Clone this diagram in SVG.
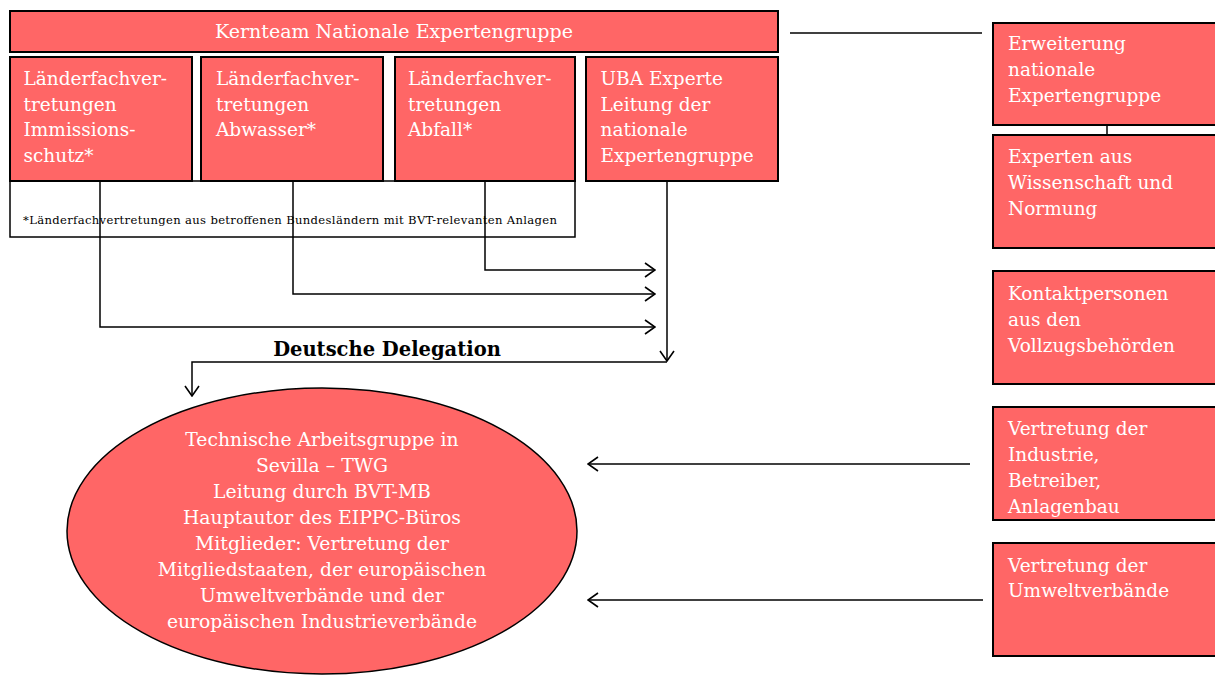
<svg xmlns="http://www.w3.org/2000/svg" width="1215" height="675" viewBox="0 0 1215 675">
  <style>
    .box { fill: #ff6666; stroke: #000; stroke-width: 2; }
    .note { fill: #fff; stroke: #000; stroke-width: 1.5; }
    .lbl { font-family: "DejaVu Serif", "Liberation Serif", serif; font-size: 18.5px; fill: #fff; }
    .ctr { text-anchor: middle; }
    .foot { font-family: "DejaVu Serif", "Liberation Serif", serif; font-size: 11.6px; fill: #000; }
    .title { font-family: "DejaVu Serif", "Liberation Serif", serif; font-size: 19.5px; font-weight: bold; fill: #000; text-anchor: middle; }
    .wire { fill: none; stroke: #000; stroke-width: 1.5; }
  </style>
  <defs>
    <marker id="open" viewBox="0 0 12 16" refX="11" refY="8" markerWidth="12" markerHeight="16" markerUnits="userSpaceOnUse" orient="auto">
      <path d="M1,1 L11,8 L1,15" fill="none" stroke="#000" stroke-width="1.6"/>
    </marker>
  </defs>
  <rect width="1215" height="675" fill="#fff"/>

  <!-- footnote panel under the Länder boxes -->
  <g id="footnote">
    <rect class="note" x="10" y="181" width="565" height="56"/>
    <text class="foot" x="23" y="224" textLength="534" lengthAdjust="spacing">*Länderfachvertretungen  aus betroffenen Bundesländern mit BVT-relevanten Anlagen</text>
  </g>

  <g id="kernteam">
    <rect class="box" x="10" y="11" width="768" height="41"/>
    <text class="lbl ctr" x="394" y="38" style="font-size:19px">Kernteam Nationale Expertengruppe</text>
  </g>

  <g id="laender-immission">
    <rect class="box" x="10" y="57" width="182" height="124"/>
    <text class="lbl" x="23.5" y="85">Länderfachver-<tspan x="23.5" y="110.5">tretungen</tspan><tspan x="23.5" y="136">Immissions-</tspan><tspan x="23.5" y="162">schutz*</tspan></text>
  </g>

  <g id="laender-abwasser">
    <rect class="box" x="201" y="57" width="182" height="124"/>
    <text class="lbl" x="216" y="85">Länderfachver-<tspan x="216" y="110.5">tretungen</tspan><tspan x="216" y="136">Abwasser*</tspan></text>
  </g>

  <g id="laender-abfall">
    <rect class="box" x="395" y="57" width="180" height="124"/>
    <text class="lbl" x="408" y="85">Länderfachver-<tspan x="408" y="110.5">tretungen</tspan><tspan x="408" y="136">Abfall*</tspan></text>
  </g>

  <g id="uba-experte">
    <rect class="box" x="586" y="57" width="192" height="124"/>
    <text class="lbl" x="600.5" y="85">UBA Experte<tspan x="600.5" y="110.5">Leitung der</tspan><tspan x="600.5" y="136">nationale</tspan><tspan x="600.5" y="162">Expertengruppe</tspan></text>
  </g>

  <g id="erweiterung">
    <rect class="box" x="993" y="23" width="240" height="102"/>
    <text class="lbl" x="1008" y="50">Erweiterung<tspan x="1008" y="76">nationale</tspan><tspan x="1008" y="102">Expertengruppe</tspan></text>
  </g>

  <g id="wissenschaft">
    <rect class="box" x="993" y="135" width="240" height="113"/>
    <text class="lbl" x="1008" y="163">Experten aus<tspan x="1008" y="189">Wissenschaft und</tspan><tspan x="1008" y="215">Normung</tspan></text>
  </g>

  <g id="vollzug">
    <rect class="box" x="993" y="271" width="240" height="113"/>
    <text class="lbl" x="1008" y="300">Kontaktpersonen<tspan x="1008" y="326">aus den</tspan><tspan x="1008" y="352">Vollzugsbehörden</tspan></text>
  </g>

  <g id="industrie">
    <rect class="box" x="993" y="407" width="240" height="113"/>
    <text class="lbl" x="1008" y="435">Vertretung der<tspan x="1008" y="461">Industrie,</tspan><tspan x="1008" y="487">Betreiber,</tspan><tspan x="1008" y="513">Anlagenbau</tspan></text>
  </g>

  <g id="umweltverbaende">
    <rect class="box" x="993" y="543" width="240" height="113"/>
    <text class="lbl" x="1008" y="572">Vertretung der<tspan x="1008" y="597">Umweltverbände</tspan></text>
  </g>

  <g id="twg">
    <ellipse class="box" style="stroke-width:1.5" cx="322" cy="531" rx="255" ry="143"/>
    <text class="lbl ctr" x="322" y="446" style="font-size:18.8px">Technische Arbeitsgruppe in<tspan x="322" y="472">Sevilla  – TWG</tspan><tspan x="322" y="498">Leitung durch BVT-MB</tspan><tspan x="322" y="524">Hauptautor des EIPPC-Büros</tspan><tspan x="322" y="550">Mitglieder: Vertretung der</tspan><tspan x="322" y="576">Mitgliedstaaten, der europäischen</tspan><tspan x="322" y="602">Umweltverbände und der</tspan><tspan x="322" y="628">europäischen Industrieverbände</tspan></text>
  </g>

  <g id="delegation">
    <text class="title" x="387" y="356">Deutsche Delegation</text>
  </g>

  <g id="connectors">
    <path class="wire" d="M485,181 V270 H655" marker-end="url(#open)"/>
    <path class="wire" d="M293,181 V294 H655" marker-end="url(#open)"/>
    <path class="wire" d="M100,181 V327 H655" marker-end="url(#open)"/>
    <path class="wire" d="M667,181 V361" marker-end="url(#open)"/>
    <path class="wire" d="M667,362 H192 V396" marker-end="url(#open)"/>
    <path class="wire" d="M790,33 H982"/>
    <path class="wire" d="M1107,125 V135"/>
    <path class="wire" d="M970,464 H588" marker-end="url(#open)"/>
    <path class="wire" d="M983,600 H588" marker-end="url(#open)"/>
  </g>
</svg>
